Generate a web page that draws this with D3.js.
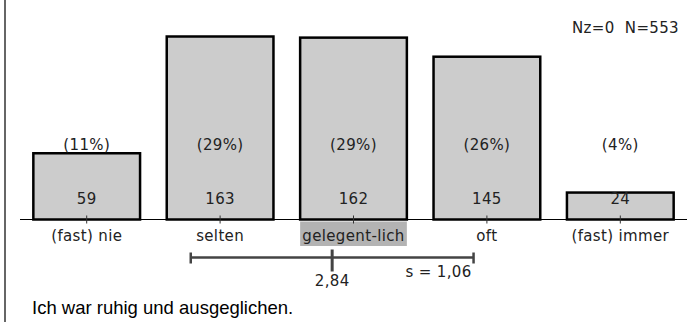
<!DOCTYPE html>
<html><head><meta charset="utf-8">
<script src="https://cdn.jsdelivr.net/npm/d3@7"></script>
<style>
body{margin:0;background:#fff;}
svg{display:block;}
.lbl{font-family:"DejaVu Sans",sans-serif;font-size:15px;letter-spacing:0.35px;fill:#222;}
</style></head>
<body><div id="chart"></div>
<script>
const categories = ["(fast) nie","selten","gelegent-lich","oft","(fast) immer"];
const counts = [59,163,162,145,24];
const percents = ["(11%)","(29%)","(29%)","(26%)","(4%)"];
const highlighted = "gelegent-lich";
const meanValue = 2.84;
const sdValue = 1.06;
const meanLabel = "2,84";
const sdLabel = "s = 1,06";
const nLabel = "Nz=0  N=553";
const title = "Ich war ruhig und ausgeglichen.";

const W=696,H=322;
const svg=d3.select("#chart").append("svg").attr("width",W).attr("height",H);

const x=d3.scaleBand().domain(categories).range([20,687]).paddingInner(0.2).paddingOuter(0.1);
const y=d3.scaleLinear().domain([0,d3.max(counts)]).range([219.5,36.5]);
const xv=d3.scaleLinear().domain([1,5]).range([x(categories[0])+x.bandwidth()/2, x(categories[4])+x.bandwidth()/2]);

// left frame line
svg.append("line").attr("x1",5).attr("x2",5).attr("y1",0).attr("y2",H).attr("stroke","#666").attr("stroke-width",2);

// highlight behind category label
svg.append("rect").attr("x",x(highlighted)).attr("width",x.bandwidth())
  .attr("y",221.5).attr("height",24.5).attr("fill","#b3b3b3");

// bars
svg.selectAll("rect.bar").data(categories).join("rect").attr("class","bar")
  .attr("x",d=>x(d)).attr("width",x.bandwidth())
  .attr("y",(d,i)=>y(counts[i])).attr("height",(d,i)=>y(0)-y(counts[i]))
  .attr("fill","#cccccc").attr("stroke","#000").attr("stroke-width",2.5);

// baseline
svg.append("line").attr("x1",x.range()[0]).attr("x2",x.range()[1]).attr("y1",219.5).attr("y2",219.5).attr("stroke","#000").attr("stroke-width",1);

// axis ticks & labels
const ax=d3.axisBottom(x).tickSize(0).tickPadding(0);
const g=svg.append("g").attr("transform","translate(0,219.5)").call(ax);
g.select(".domain").remove();
g.selectAll(".tick line").remove();
g.selectAll(".tick").append("line").attr("y1",-4).attr("y2",4).attr("stroke","#333").attr("stroke-width",1);
g.selectAll(".tick text").attr("class","lbl").attr("dy",null).attr("y",21.5)
  .style("font-family","DejaVu Sans").style("font-size","15px").style("letter-spacing","0.35px").attr("fill","#222");

// percent labels
svg.selectAll("text.pct").data(categories).join("text").attr("class","pct lbl")
  .attr("x",d=>x(d)+x.bandwidth()/2).attr("y",150).attr("text-anchor","middle")
  .text((d,i)=>percents[i]);
// count labels
svg.selectAll("text.cnt").data(categories).join("text").attr("class","cnt lbl")
  .attr("x",d=>x(d)+x.bandwidth()/2).attr("y",204).attr("text-anchor","middle")
  .text((d,i)=>counts[i]);

// mean +/- sd
const my=257.5;
svg.append("line").attr("x1",xv(meanValue-sdValue)).attr("x2",xv(meanValue+sdValue)).attr("y1",my).attr("y2",my).attr("stroke","#444").attr("stroke-width",2.5);
[meanValue-sdValue,meanValue+sdValue].forEach(v=>{
  svg.append("line").attr("x1",xv(v)).attr("x2",xv(v)).attr("y1",my-5).attr("y2",my+6).attr("stroke","#444").attr("stroke-width",2.5);
});
svg.append("line").attr("x1",xv(meanValue)).attr("x2",xv(meanValue)).attr("y1",my-8).attr("y2",my+14).attr("stroke","#444").attr("stroke-width",3);
svg.append("text").attr("class","lbl").attr("x",xv(meanValue)).attr("y",286).attr("text-anchor","middle").text(meanLabel);
svg.append("text").attr("class","lbl").attr("x",xv(meanValue+sdValue)-2).attr("y",277).attr("text-anchor","end").text(sdLabel);

// N label
svg.append("text").attr("class","lbl").attr("x",679).attr("y",33).attr("text-anchor","end").style("white-space","pre").text(nLabel);

// title
svg.append("text").attr("x",32).attr("y",314).style("font-family","Liberation Sans, Arial, sans-serif").style("font-size","18.5px").attr("fill","#000").text(title);
</script></body></html>
